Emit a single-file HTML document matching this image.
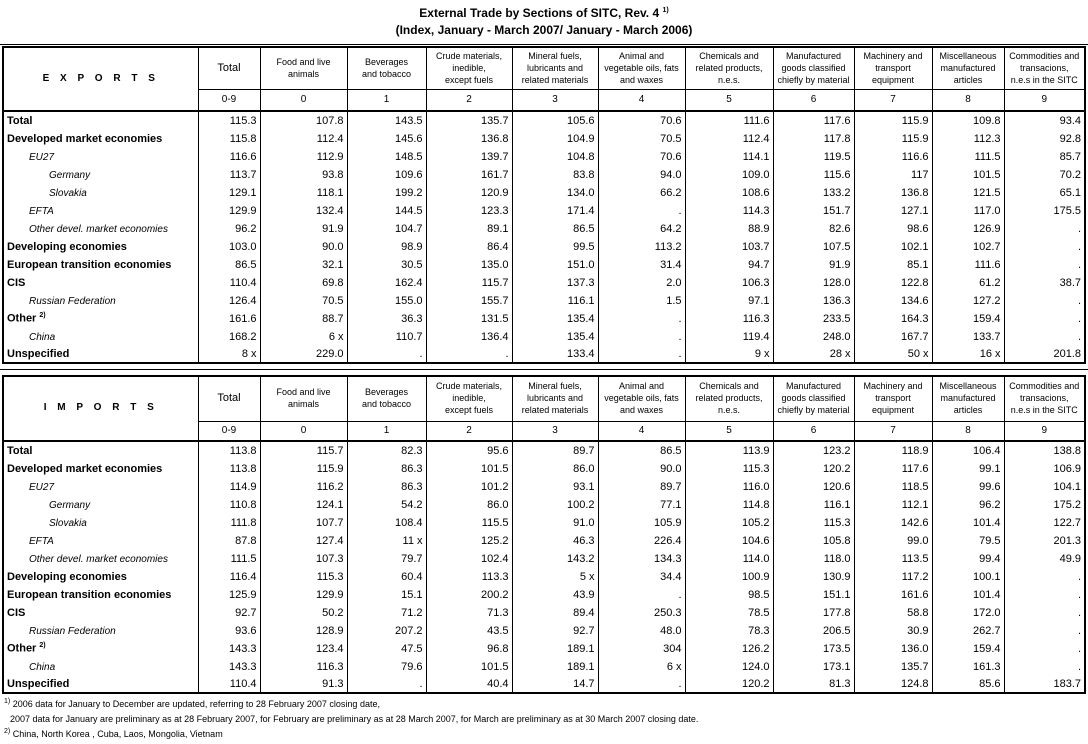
<!DOCTYPE html>
<html><head><meta charset="utf-8"><style>
body{margin:0;width:1088px;height:744px;background:#fff;font-family:"Liberation Sans",Arial,sans-serif;color:#000;position:relative;overflow:hidden}
.t{position:absolute;left:0;width:1088px;text-align:center;font-weight:bold;font-size:12px}
.hl{position:absolute;left:0;width:1088px;height:1px;background:#000}
table{position:absolute;left:2px;border-collapse:collapse;table-layout:fixed;border:2px solid #000}
td{padding:0 3px 1px 3px;font-size:11px;white-space:nowrap;overflow:hidden;border-left:1px solid #000;text-align:right;line-height:13px;vertical-align:bottom}
tr.h td{text-align:center;font-size:9px;line-height:12px;border-bottom:1px solid #000;vertical-align:middle}
tr.c td{text-align:center;font-size:10px;border-bottom:2px solid #000;vertical-align:middle}
td.l{text-align:left;border-left:none}
tr.h td.l{text-align:center;font-weight:bold;font-size:10px;letter-spacing:4px;border-bottom:2px solid #000}
tr.b td.l{font-weight:bold}
tr.i1 td.l{font-style:italic;padding-left:25px;font-size:10px}
tr.i2 td.l{font-style:italic;padding-left:45px;font-size:10px}
sup{font-size:7px}
.fn{position:absolute;left:4px;font-size:9px}
</style></head><body>
<div class="t" style="top:6px">External Trade by Sections of SITC, Rev. 4 <sup>1)</sup></div>
<div class="t" style="top:23px">(Index, January - March 2007/ January - March 2006)</div>
<div class="hl" style="top:44px"></div>
<table style="top:46px;width:1084px">
<colgroup><col style="width:195px"><col style="width:62px"><col style="width:87px"><col style="width:79px"><col style="width:86px"><col style="width:86px"><col style="width:87px"><col style="width:88px"><col style="width:81px"><col style="width:78px"><col style="width:72px"><col style="width:81px"></colgroup>
<tr class="h" style="height:42px"><td class="l" rowspan="2">E X P O R T S</td><td style="font-size:11px">Total</td><td>Food and live<br>animals</td><td>Beverages<br>and tobacco</td><td>Crude materials,<br>inedible,<br>except fuels</td><td>Mineral fuels,<br>lubricants and<br>related materials</td><td>Animal and<br>vegetable oils, fats<br>and waxes</td><td>Chemicals and<br>related products,<br>n.e.s.</td><td>Manufactured<br>goods classified<br>chiefly by material</td><td>Machinery and<br>transport<br>equipment</td><td>Miscellaneous<br>manufactured<br>articles</td><td>Commodities and<br>transacions,<br>n.e.s in the SITC</td></tr>
<tr class="c" style="height:22px"><td>0-9</td><td>0</td><td>1</td><td>2</td><td>3</td><td>4</td><td>5</td><td>6</td><td>7</td><td>8</td><td>9</td></tr>
<tr class="b" style="height:18px"><td class="l">Total</td><td>115.3</td><td>107.8</td><td>143.5</td><td>135.7</td><td>105.6</td><td>70.6</td><td>111.6</td><td>117.6</td><td>115.9</td><td>109.8</td><td>93.4</td></tr>
<tr class="b" style="height:18px"><td class="l">Developed market economies</td><td>115.8</td><td>112.4</td><td>145.6</td><td>136.8</td><td>104.9</td><td>70.5</td><td>112.4</td><td>117.8</td><td>115.9</td><td>112.3</td><td>92.8</td></tr>
<tr class="i1" style="height:18px"><td class="l">EU27</td><td>116.6</td><td>112.9</td><td>148.5</td><td>139.7</td><td>104.8</td><td>70.6</td><td>114.1</td><td>119.5</td><td>116.6</td><td>111.5</td><td>85.7</td></tr>
<tr class="i2" style="height:18px"><td class="l">Germany</td><td>113.7</td><td>93.8</td><td>109.6</td><td>161.7</td><td>83.8</td><td>94.0</td><td>109.0</td><td>115.6</td><td>117</td><td>101.5</td><td>70.2</td></tr>
<tr class="i2" style="height:18px"><td class="l">Slovakia</td><td>129.1</td><td>118.1</td><td>199.2</td><td>120.9</td><td>134.0</td><td>66.2</td><td>108.6</td><td>133.2</td><td>136.8</td><td>121.5</td><td>65.1</td></tr>
<tr class="i1" style="height:18px"><td class="l">EFTA</td><td>129.9</td><td>132.4</td><td>144.5</td><td>123.3</td><td>171.4</td><td>.</td><td>114.3</td><td>151.7</td><td>127.1</td><td>117.0</td><td>175.5</td></tr>
<tr class="i1" style="height:18px"><td class="l">Other devel. market economies</td><td>96.2</td><td>91.9</td><td>104.7</td><td>89.1</td><td>86.5</td><td>64.2</td><td>88.9</td><td>82.6</td><td>98.6</td><td>126.9</td><td>.</td></tr>
<tr class="b" style="height:18px"><td class="l">Developing economies</td><td>103.0</td><td>90.0</td><td>98.9</td><td>86.4</td><td>99.5</td><td>113.2</td><td>103.7</td><td>107.5</td><td>102.1</td><td>102.7</td><td>.</td></tr>
<tr class="b" style="height:18px"><td class="l">European transition economies</td><td>86.5</td><td>32.1</td><td>30.5</td><td>135.0</td><td>151.0</td><td>31.4</td><td>94.7</td><td>91.9</td><td>85.1</td><td>111.6</td><td>.</td></tr>
<tr class="b" style="height:18px"><td class="l">CIS</td><td>110.4</td><td>69.8</td><td>162.4</td><td>115.7</td><td>137.3</td><td>2.0</td><td>106.3</td><td>128.0</td><td>122.8</td><td>61.2</td><td>38.7</td></tr>
<tr class="i1" style="height:18px"><td class="l">Russian Federation</td><td>126.4</td><td>70.5</td><td>155.0</td><td>155.7</td><td>116.1</td><td>1.5</td><td>97.1</td><td>136.3</td><td>134.6</td><td>127.2</td><td>.</td></tr>
<tr class="b" style="height:18px"><td class="l">Other <sup>2)</sup></td><td>161.6</td><td>88.7</td><td>36.3</td><td>131.5</td><td>135.4</td><td>.</td><td>116.3</td><td>233.5</td><td>164.3</td><td>159.4</td><td>.</td></tr>
<tr class="i1" style="height:18px"><td class="l">China</td><td>168.2</td><td>6 x</td><td>110.7</td><td>136.4</td><td>135.4</td><td>.</td><td>119.4</td><td>248.0</td><td>167.7</td><td>133.7</td><td>.</td></tr>
<tr class="b" style="height:18px"><td class="l">Unspecified</td><td>8 x</td><td>229.0</td><td>.</td><td>.</td><td>133.4</td><td>.</td><td>9 x</td><td>28 x</td><td>50 x</td><td>16 x</td><td>201.8</td></tr>
</table>
<div class="hl" style="top:369px"></div>
<table style="top:375px;width:1084px">
<colgroup><col style="width:195px"><col style="width:62px"><col style="width:87px"><col style="width:79px"><col style="width:86px"><col style="width:86px"><col style="width:87px"><col style="width:88px"><col style="width:81px"><col style="width:78px"><col style="width:72px"><col style="width:81px"></colgroup>
<tr class="h" style="height:45px"><td class="l" rowspan="2">I M P O R T S</td><td style="font-size:11px">Total</td><td>Food and live<br>animals</td><td>Beverages<br>and tobacco</td><td>Crude materials,<br>inedible,<br>except fuels</td><td>Mineral fuels,<br>lubricants and<br>related materials</td><td>Animal and<br>vegetable oils, fats<br>and waxes</td><td>Chemicals and<br>related products,<br>n.e.s.</td><td>Manufactured<br>goods classified<br>chiefly by material</td><td>Machinery and<br>transport<br>equipment</td><td>Miscellaneous<br>manufactured<br>articles</td><td>Commodities and<br>transacions,<br>n.e.s in the SITC</td></tr>
<tr class="c" style="height:20px"><td>0-9</td><td>0</td><td>1</td><td>2</td><td>3</td><td>4</td><td>5</td><td>6</td><td>7</td><td>8</td><td>9</td></tr>
<tr class="b" style="height:18px"><td class="l">Total</td><td>113.8</td><td>115.7</td><td>82.3</td><td>95.6</td><td>89.7</td><td>86.5</td><td>113.9</td><td>123.2</td><td>118.9</td><td>106.4</td><td>138.8</td></tr>
<tr class="b" style="height:18px"><td class="l">Developed market economies</td><td>113.8</td><td>115.9</td><td>86.3</td><td>101.5</td><td>86.0</td><td>90.0</td><td>115.3</td><td>120.2</td><td>117.6</td><td>99.1</td><td>106.9</td></tr>
<tr class="i1" style="height:18px"><td class="l">EU27</td><td>114.9</td><td>116.2</td><td>86.3</td><td>101.2</td><td>93.1</td><td>89.7</td><td>116.0</td><td>120.6</td><td>118.5</td><td>99.6</td><td>104.1</td></tr>
<tr class="i2" style="height:18px"><td class="l">Germany</td><td>110.8</td><td>124.1</td><td>54.2</td><td>86.0</td><td>100.2</td><td>77.1</td><td>114.8</td><td>116.1</td><td>112.1</td><td>96.2</td><td>175.2</td></tr>
<tr class="i2" style="height:18px"><td class="l">Slovakia</td><td>111.8</td><td>107.7</td><td>108.4</td><td>115.5</td><td>91.0</td><td>105.9</td><td>105.2</td><td>115.3</td><td>142.6</td><td>101.4</td><td>122.7</td></tr>
<tr class="i1" style="height:18px"><td class="l">EFTA</td><td>87.8</td><td>127.4</td><td>11 x</td><td>125.2</td><td>46.3</td><td>226.4</td><td>104.6</td><td>105.8</td><td>99.0</td><td>79.5</td><td>201.3</td></tr>
<tr class="i1" style="height:18px"><td class="l">Other devel. market economies</td><td>111.5</td><td>107.3</td><td>79.7</td><td>102.4</td><td>143.2</td><td>134.3</td><td>114.0</td><td>118.0</td><td>113.5</td><td>99.4</td><td>49.9</td></tr>
<tr class="b" style="height:18px"><td class="l">Developing economies</td><td>116.4</td><td>115.3</td><td>60.4</td><td>113.3</td><td>5 x</td><td>34.4</td><td>100.9</td><td>130.9</td><td>117.2</td><td>100.1</td><td>.</td></tr>
<tr class="b" style="height:18px"><td class="l">European transition economies</td><td>125.9</td><td>129.9</td><td>15.1</td><td>200.2</td><td>43.9</td><td>.</td><td>98.5</td><td>151.1</td><td>161.6</td><td>101.4</td><td>.</td></tr>
<tr class="b" style="height:18px"><td class="l">CIS</td><td>92.7</td><td>50.2</td><td>71.2</td><td>71.3</td><td>89.4</td><td>250.3</td><td>78.5</td><td>177.8</td><td>58.8</td><td>172.0</td><td>.</td></tr>
<tr class="i1" style="height:18px"><td class="l">Russian Federation</td><td>93.6</td><td>128.9</td><td>207.2</td><td>43.5</td><td>92.7</td><td>48.0</td><td>78.3</td><td>206.5</td><td>30.9</td><td>262.7</td><td>.</td></tr>
<tr class="b" style="height:18px"><td class="l">Other <sup>2)</sup></td><td>143.3</td><td>123.4</td><td>47.5</td><td>96.8</td><td>189.1</td><td>304</td><td>126.2</td><td>173.5</td><td>136.0</td><td>159.4</td><td>.</td></tr>
<tr class="i1" style="height:18px"><td class="l">China</td><td>143.3</td><td>116.3</td><td>79.6</td><td>101.5</td><td>189.1</td><td>6 x</td><td>124.0</td><td>173.1</td><td>135.7</td><td>161.3</td><td>.</td></tr>
<tr class="b" style="height:18px"><td class="l">Unspecified</td><td>110.4</td><td>91.3</td><td>.</td><td>40.4</td><td>14.7</td><td>.</td><td>120.2</td><td>81.3</td><td>124.8</td><td>85.6</td><td>183.7</td></tr>
</table>
<div class="fn" style="top:698px"><sup>1)</sup> 2006 data for January to December are updated, referring to 28 February 2007 closing date,</div>
<div class="fn" style="top:714px;left:10px">2007 data for January are preliminary as at 28 February 2007, for February are preliminary as at 28 March 2007, for March are preliminary as at 30 March 2007 closing date.</div>
<div class="fn" style="top:728px"><sup>2)</sup> China, North Korea , Cuba, Laos, Mongolia, Vietnam</div>
</body></html>
